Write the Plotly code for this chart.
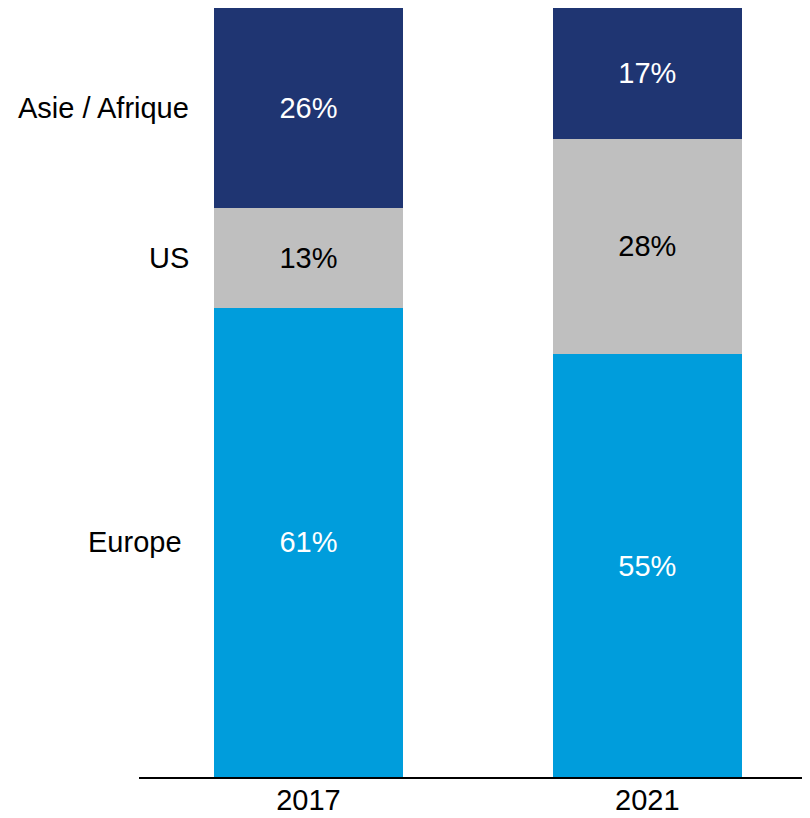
import plotly.graph_objects as go

years = ["2017", "2021"]
regions = ["Europe", "US", "Asie / Afrique"]
europe = [61, 55]
us = [13, 28]
asie = [26, 17]

series = [europe, us, asie]
colors = ["#009DDC", "#BFBFBF", "#1F3572"]
text_colors = ["white", "black", "white"]

FONT = "Liberation Sans, Arial, sans-serif"
FS = 29

fig = go.Figure()
for name, vals, col, tc in zip(regions, series, colors, text_colors):
    fig.add_trace(go.Bar(
        x=years, y=vals, name=name,
        marker=dict(color=col, line=dict(width=0)),
        text=[f"{v}%" for v in vals],
        textposition="inside", insidetextanchor="middle",
        textfont=dict(family=FONT, size=FS, color=tc),
        width=0.557,
        hoverinfo="skip",
    ))

# left-side series labels at centre of 2017 segments
cum = 0
label_xpix_shift = {"Europe": -7, "US": 0, "Asie / Afrique": 0}
for name, vals in zip(regions, series):
    mid = cum + vals[0] / 2
    cum += vals[0]
    fig.add_annotation(
        x=0, y=mid, xref="x", yref="y",
        text=name, showarrow=False, xanchor="right", yanchor="middle",
        xshift=-117 + label_xpix_shift[name],
        font=dict(family=FONT, size=FS, color="black"),
    )

fig.update_layout(
    barmode="stack",
    width=802, height=810,
    margin=dict(l=131, r=0, t=0, b=41),
    paper_bgcolor="white", plot_bgcolor="white",
    showlegend=False,
    font=dict(family=FONT, size=FS, color="black"),
    xaxis=dict(
        type="category", range=[-0.5, 1.48],
        showline=True, linecolor="black", linewidth=2,
        showgrid=False, ticks="", tickfont=dict(size=FS, color="black"),
        ticklabelstandoff=-4,
        fixedrange=True,
    ),
    yaxis=dict(
        range=[0, 100], visible=False, showgrid=False, zeroline=False,
        fixedrange=True,
    ),
)

fig.write_html("out.html")
